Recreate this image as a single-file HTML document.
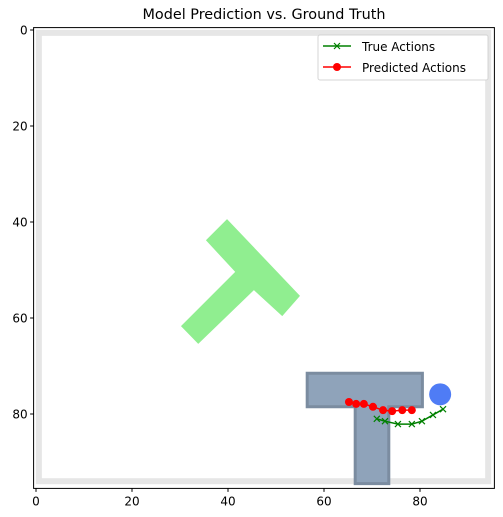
<!DOCTYPE html>
<html><head><meta charset="utf-8"><style>
body{margin:0;background:#fff;}
svg{display:block;font-family:"DejaVu Sans","Liberation Sans",sans-serif;}
</style></head><body>
<svg id="c" width="503" height="517" xmlns="http://www.w3.org/2000/svg"></svg>
<script>
const xTicks=[0,20,40,60,80];
const yTicks=[0,20,40,60,80];
const trueX=[71.0,72.7,75.4,78.3,80.4,82.7,84.8];
const trueY=[81.0,81.5,82.1,82.1,81.5,80.2,79.0];
const predX=[65.2,66.7,68.3,70.2,72.3,74.2,76.3,78.3];
const predY=[77.5,77.9,77.9,78.5,79.2,79.4,79.2,79.2];
const greenTX=[39.8,55.0,51.3,45.4,33.8,30.2,41.5,35.4];
const greenTY=[39.4,55.4,59.6,54.2,65.4,61.7,50.4,43.8];
const grayTX=[56.5,80.5,80.5,73.5,73.5,66.5,66.5,56.5];
const grayTY=[71.5,71.5,78.5,78.5,94.5,94.5,78.5,78.5];
const goalX=[84.2], goalY=[75.9];

const NS="http://www.w3.org/2000/svg";
const svg=document.getElementById('c');
const L=33.6,T=27.6,S=4.8;
const sx=v=>L+(v+0.5)*S, sy=v=>T+(v+0.5)*S;
function mk(tag,at,parent){const e=document.createElementNS(NS,tag);for(const k in at)e.setAttribute(k,at[k]);(parent||svg).appendChild(e);return e;}

// image frame band
let fr=mk('rect',{x:sx(0.6),y:sy(0.6),width:sx(94.2)-sx(0.6),height:sy(94.0)-sy(0.6),fill:'none',stroke:'#e6e6e6','stroke-width':6});



let g=mk('polygon',{points:greenTX.map((x,i)=>sx(x)+','+sy(greenTY[i])).join(' '),fill:'#90ee90'});


let gr=mk('polygon',{points:grayTX.map((x,i)=>sx(x)+','+sy(grayTY[i])).join(' '),fill:'#8fa3ba',stroke:'#7b8ca0','stroke-width':3});


let b=mk('circle',{cx:sx(goalX[0]),cy:sy(goalY[0]),r:11,fill:'#4f7cf5'});



// true actions
let tl=mk('polyline',{points:trueX.map((x,i)=>sx(x)+','+sy(trueY[i])).join(' '),fill:'none',stroke:'#008000','stroke-width':1.5});


trueX.forEach((x,i)=>{const cx=sx(x),cy=sy(trueY[i]);
 const m=mk('path',{d:`M${cx-3},${cy-3}L${cx+3},${cy+3}M${cx-3},${cy+3}L${cx+3},${cy-3}`,stroke:'#008000','stroke-width':1.2});
 
 });
let pl=mk('polyline',{points:predX.map((x,i)=>sx(x)+','+sy(predY[i])).join(' '),fill:'none',stroke:'#ff0000','stroke-width':1.5});


predX.forEach((x,i)=>{const m=mk('circle',{cx:sx(x),cy:sy(predY[i]),r:4,fill:'#ff0000'});
 
 });

// axes box
let ax=mk('rect',{x:L,y:T,width:96*S,height:96*S,fill:'none',stroke:'#000','stroke-width':1});


xTicks.forEach(v=>{const x=sx(v);mk('line',{x1:x,x2:x,y1:T+96*S,y2:T+96*S+3.5,stroke:'#000'});
 const t=mk('text',{x:x,y:T+96*S+17,'text-anchor':'middle','font-size':12});t.textContent=v;
 
 });
yTicks.forEach(v=>{const y=sy(v);mk('line',{x1:L-3.5,x2:L,y1:y,y2:y,stroke:'#000'});
 const t=mk('text',{x:L-6,y:y+4.5,'text-anchor':'end','font-size':12});t.textContent=v;
 
 });
let ti=mk('text',{x:264,y:19,'text-anchor':'middle','font-size':14.4});ti.textContent='Model Prediction vs. Ground Truth';



// legend
const lg=mk('g',{});


mk('rect',{x:318,y:35,width:170,height:45,rx:2,fill:'#fff',stroke:'#d0d0d0','stroke-opacity':0.9},lg);
mk('line',{x1:323,x2:351,y1:46,y2:46,stroke:'#008000','stroke-width':1.5},lg);
mk('path',{d:'M334,43L340,49M334,49L340,43',stroke:'#008000','stroke-width':1.2},lg);
let t1=mk('text',{x:362,y:51,'font-size':12},lg);t1.textContent='True Actions';


mk('line',{x1:323,x2:351,y1:67,y2:67,stroke:'#ff0000','stroke-width':1.5},lg);
mk('circle',{cx:337,cy:67,r:4,fill:'#ff0000'},lg);
let t2=mk('text',{x:362,y:72,'font-size':12},lg);t2.textContent='Predicted Actions';


</script>
</body></html>
